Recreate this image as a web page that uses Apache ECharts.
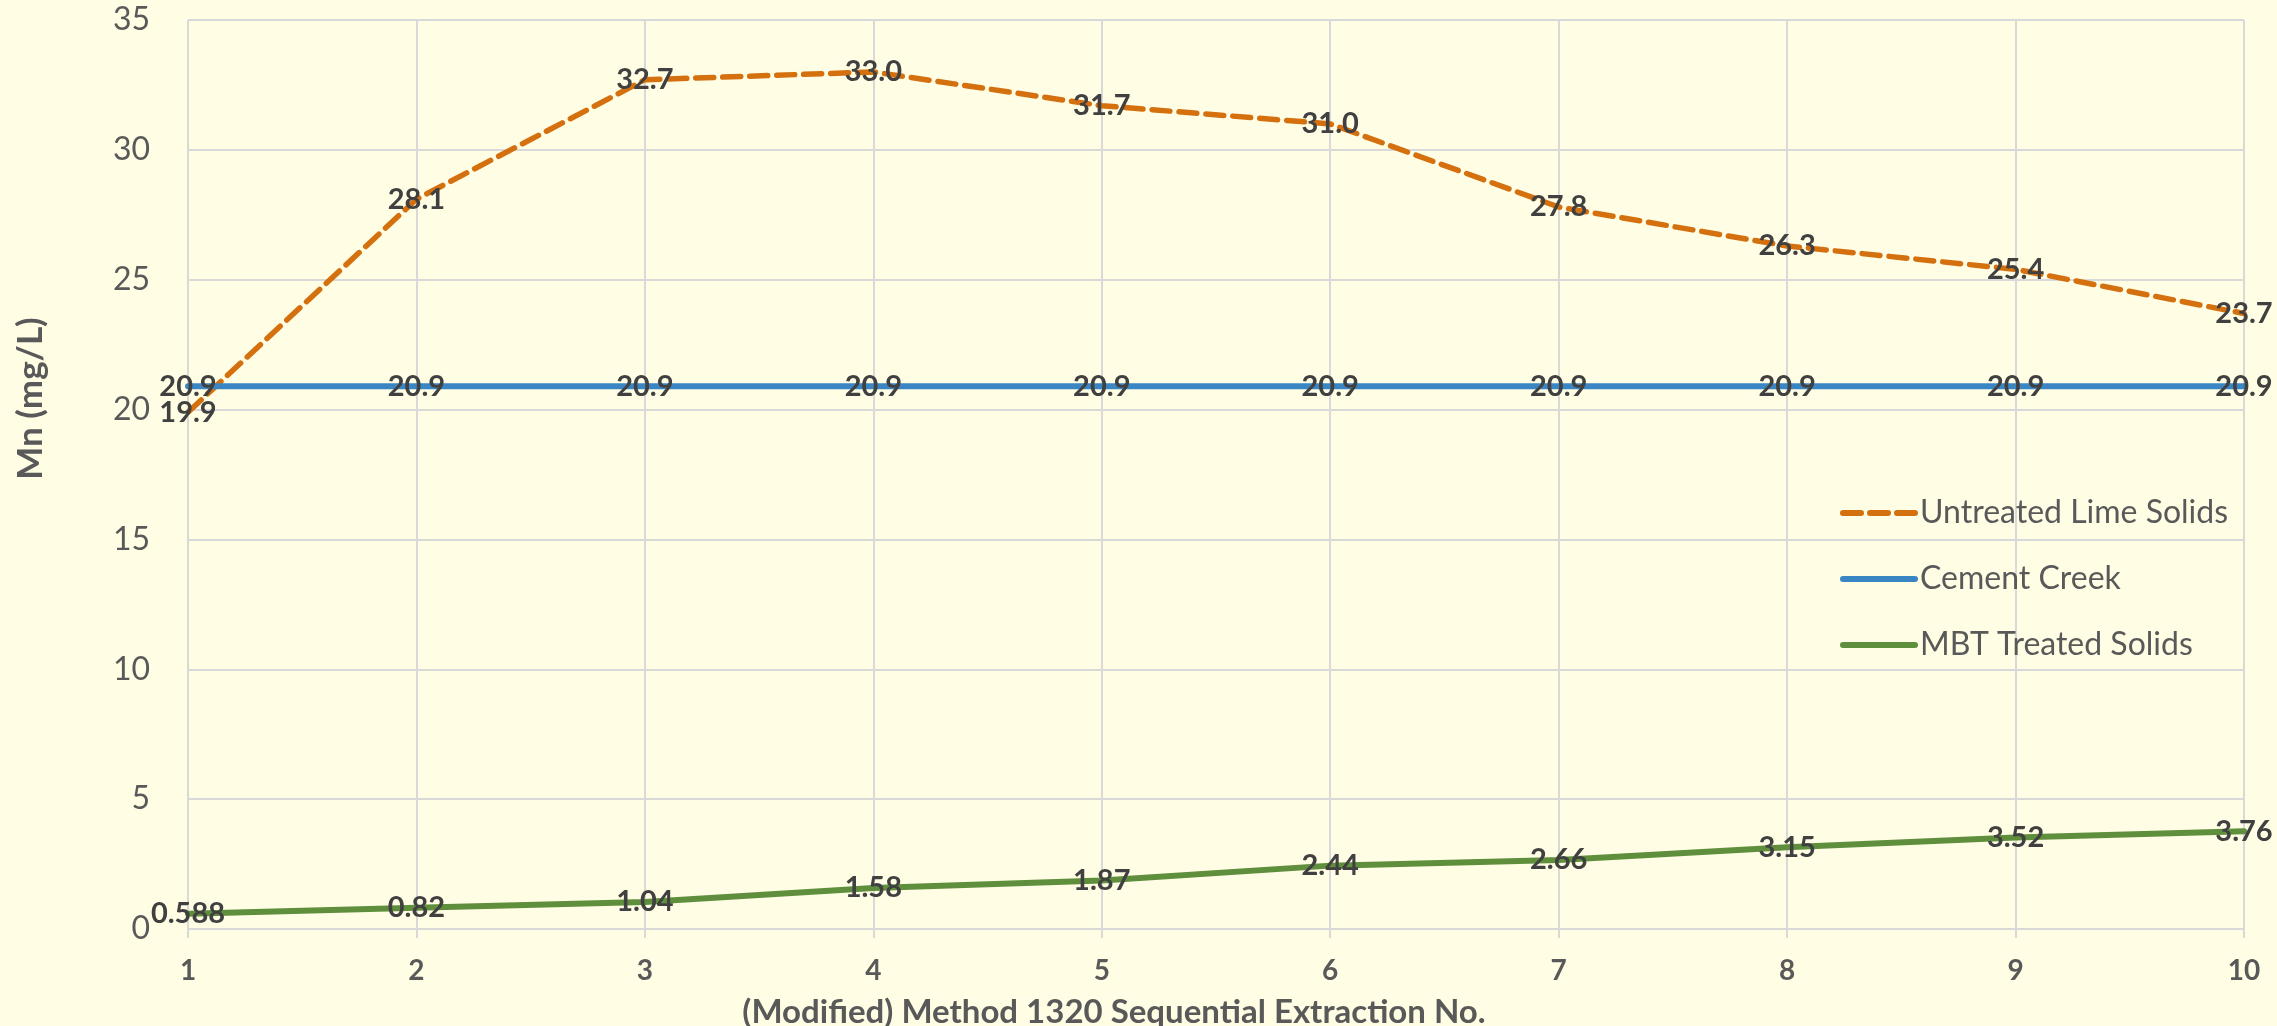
<!DOCTYPE html>
<html>
<head>
<meta charset="utf-8">
<script src="https://cdn.jsdelivr.net/npm/echarts@6/dist/echarts.min.js"></script>
<style>
html,body{margin:0;padding:0;background:#FFFDE4;}
#chart{width:2277px;height:1026px;}
</style>
</head>
<body>
<div id="chart"></div>
<script>
const categories = ['1','2','3','4','5','6','7','8','9','10'];
const untreated = [19.9, 28.1, 32.7, 33.0, 31.7, 31.0, 27.8, 26.3, 25.4, 23.7];
const cementCreek = [20.9, 20.9, 20.9, 20.9, 20.9, 20.9, 20.9, 20.9, 20.9, 20.9];
const mbtTreated = [0.588, 0.82, 1.04, 1.58, 1.87, 2.44, 2.66, 3.15, 3.52, 3.76];
const untreatedLabels = ['19.9','28.1','32.7','33.0','31.7','31.0','27.8','26.3','25.4','23.7'];
const cementLabels = ['20.9','20.9','20.9','20.9','20.9','20.9','20.9','20.9','20.9','20.9'];
const mbtLabels = ['0.588','0.82','1.04','1.58','1.87','2.44','2.66','3.15','3.52','3.76'];

const FONT = 'Lato, "Open Sans", sans-serif';
const chart = echarts.init(document.getElementById('chart'));

function labelCfg(texts) {
  return {
    show: true,
    position: 'inside',
    fontFamily: FONT,
    fontWeight: 'bold',
    fontSize: 29,
    color: '#404040',
    formatter: p => texts[p.dataIndex]
  };
}

chart.setOption({
  backgroundColor: '#FFFDE4',
  animation: false,
  grid: { left: 188, right: 33, top: 20, bottom: 97, containLabel: false, outerBoundsMode: 'none' },
  legend: {
    orient: 'vertical',
    left: 1835,
    top: 492,
    itemWidth: 72,
    itemHeight: 14,
    itemGap: 34,
    selectedMode: false,
    itemStyle: { opacity: 0, borderWidth: 0 },
    lineStyle: { width: 6, cap: 'round' },
    textStyle: { fontFamily: FONT, fontSize: 32, color: '#595959' },
    data: ['Untreated Lime Solids', 'Cement Creek', 'MBT Treated Solids']
  },
  xAxis: {
    type: 'category',
    data: categories,
    boundaryGap: false,
    name: '(Modified) Method 1320 Sequential Extraction No.',
    nameLocation: 'middle',
    nameGap: 67,
    nameTextStyle: { fontFamily: FONT, fontWeight: 'bold', fontSize: 33, color: '#595959', padding: [0, 204, 0, 0] },
    axisLine: { show: true, lineStyle: { color: '#D9D9D9', width: 2 } },
    axisTick: { show: true, alignWithLabel: true, length: 9, lineStyle: { color: '#D9D9D9', width: 2 } },
    axisLabel: { fontFamily: FONT, fontWeight: 'bold', fontSize: 28, color: '#595959', margin: 28 },
    splitLine: { show: true, lineStyle: { color: '#D9D9D9', width: 2 } }
  },
  yAxis: {
    type: 'value',
    min: 0,
    max: 35,
    interval: 5,
    name: 'Mn (mg/L)',
    nameLocation: 'middle',
    nameGap: 140,
    nameTextStyle: { fontFamily: FONT, fontWeight: 'bold', fontSize: 35, color: '#595959', padding: [0, 0, 0, 152] },
    axisLine: { show: false },
    axisTick: { show: false },
    axisLabel: { fontFamily: FONT, fontSize: 32, color: '#595959', margin: 38 },
    splitLine: { show: true, lineStyle: { color: '#D9D9D9', width: 2 } }
  },
  series: [
    {
      name: 'Untreated Lime Solids',
      type: 'line',
      data: untreated,
      symbol: 'circle',
      symbolSize: 1,
      showSymbol: true,
      lineStyle: { color: '#D5700F', width: 5.5, type: [18, 9], cap: 'round' },
      itemStyle: { color: '#D5700F' },
      label: labelCfg(untreatedLabels),
      z: 2
    },
    {
      name: 'Cement Creek',
      type: 'line',
      data: cementCreek,
      symbol: 'circle',
      symbolSize: 1,
      showSymbol: true,
      lineStyle: { color: '#3A86C4', width: 6, cap: 'round' },
      itemStyle: { color: '#3A86C4' },
      label: labelCfg(cementLabels),
      z: 3
    },
    {
      name: 'MBT Treated Solids',
      type: 'line',
      data: mbtTreated,
      symbol: 'circle',
      symbolSize: 1,
      showSymbol: true,
      lineStyle: { color: '#5F8F3D', width: 6, cap: 'round' },
      itemStyle: { color: '#5F8F3D' },
      label: labelCfg(mbtLabels),
      z: 3
    }
  ]
});
</script>
</body>
</html>
